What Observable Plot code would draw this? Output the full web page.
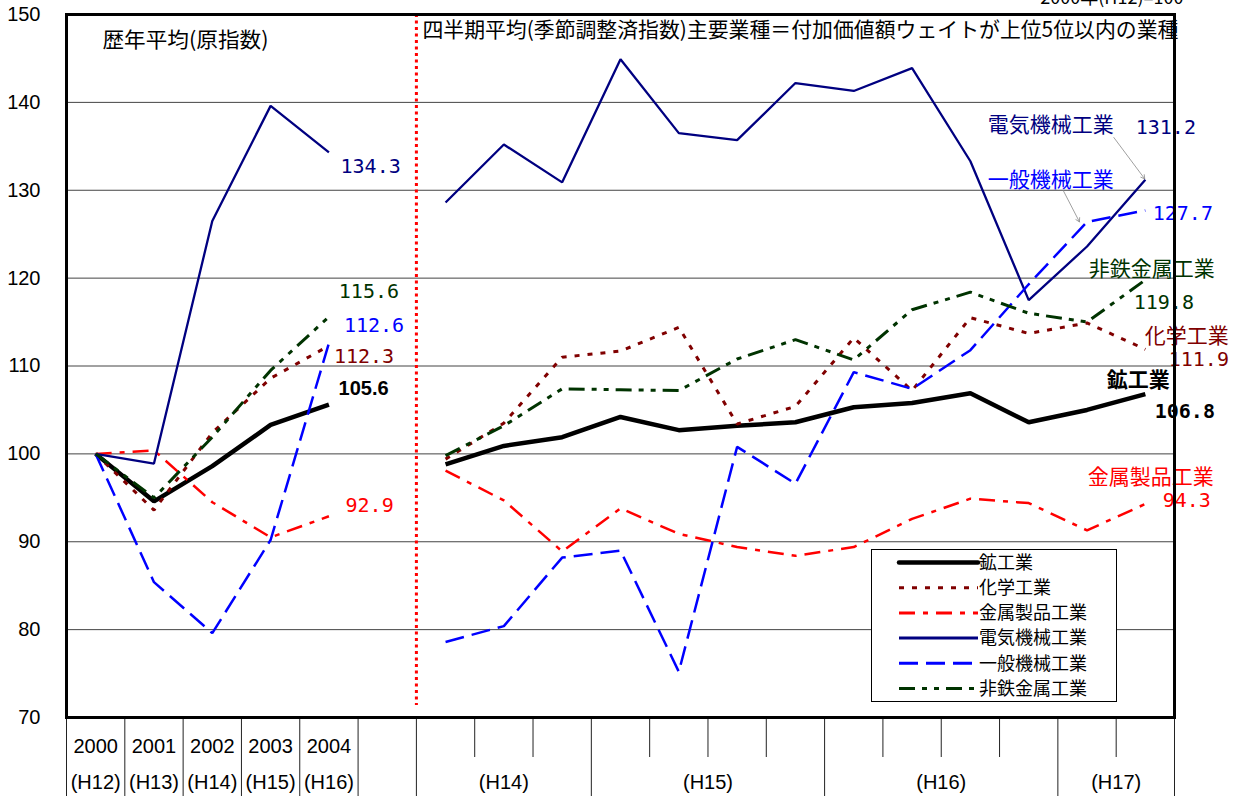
<!DOCTYPE html>
<html>
<head>
<meta charset="utf-8">
<script src="https://cdn.jsdelivr.net/npm/d3@7"></script>
<script src="https://cdn.jsdelivr.net/npm/@observablehq/plot@0.6"></script>
<style>
  body { margin: 0; background: #fff; }
  #wrap { position: relative; width: 1233px; height: 796px; overflow: hidden; background: #fff; }
  #legend { position: absolute; left: 871px; top: 549px; width: 246px; height: 153px;
            border: 1px solid #000; background: #fff; box-sizing: border-box; }
  #legend svg { overflow: visible; display: block; }
</style>
</head>
<body>
<div id="wrap"><div id="chart"></div><div id="legend"></div></div>
<script>
// ---------------- data ----------------
const years = ["2000", "2001", "2002", "2003", "2004"];
const yearEras = ["(H12)", "(H13)", "(H14)", "(H15)", "(H16)"];
const fiscalYears = ["(H14)", "(H15)", "(H16)", "(H17)"];
const quartersPerFiscalYear = [3, 4, 4, 2];
const yTicks = [70, 80, 90, 100, 110, 120, 130, 140, 150];

const seriesNames = ["鉱工業", "化学工業", "金属製品工業", "電気機械工業", "一般機械工業", "非鉄金属工業"];

// annual averages (original index), 2000-2004
const annualMining      = [100, 94.6, 98.6, 103.3, 105.6];
const annualChemical    = [100, 93.6, 102.4, 108.6, 112.3];
const annualMetalProd   = [100, 100.4, 94.5, 90.5, 92.9];
const annualElectrical  = [100, 98.9, 126.5, 139.6, 134.3];
const annualGeneralMach = [100, 85.4, 79.6, 90.2, 112.6];
const annualNonferrous  = [100, 95.0, 101.9, 109.5, 115.6];

// quarterly averages (seasonally adjusted), H14 Q2 .. H17 Q1
const quarterMining      = [98.8, 100.9, 101.9, 104.2, 102.7, 103.2, 103.6, 105.3, 105.8, 106.9, 103.6, 105.0, 106.8];
const quarterChemical    = [99.4, 103.5, 111.0, 111.7, 114.4, 103.4, 105.4, 113.2, 107.2, 115.5, 113.7, 114.9, 111.9];
const quarterMetalProd   = [98.1, 94.7, 88.9, 93.8, 90.9, 89.4, 88.4, 89.4, 92.6, 94.9, 94.4, 91.3, 94.3];
const quarterElectrical  = [128.6, 135.2, 130.9, 144.9, 136.5, 135.7, 142.2, 141.3, 143.9, 133.3, 117.5, 123.6, 131.2];
const quarterGeneralMach = [78.6, 80.4, 88.2, 89.0, 75.2, 100.8, 96.6, 109.3, 107.4, 111.8, 119.3, 126.4, 127.7];
const quarterNonferrous  = [99.8, 103.2, 107.4, 107.3, 107.2, 110.8, 113.0, 110.7, 116.4, 118.4, 116.0, 115.0, 119.8];

const titleAnnual = "歴年平均(原指数)";
const titleQuarter = "四半期平均(季節調整済指数)主要業種＝付加価値額ウェイトが上位5位以内の業種";
const baseNote = "2000年(H12)=100";

// ---------------- styles ----------------
const CJK = "'Noto Sans CJK JP', sans-serif";
const SANS = "'Liberation Sans', Arial, sans-serif";
const MONO = "'DejaVu Sans Mono', 'Liberation Mono', monospace";

const styles = {
  "鉱工業":       {stroke: "#000000", strokeWidth: 4.5, dash: null},
  "化学工業":     {stroke: "#800000", strokeWidth: 3, dash: "5,8"},
  "金属製品工業": {stroke: "#FF0000", strokeWidth: 2.5, dash: "16,8,5,8"},
  "電気機械工業": {stroke: "#000080", strokeWidth: 2.3, dash: null},
  "一般機械工業": {stroke: "#0000FF", strokeWidth: 2.5, dash: "19,8"},
  "非鉄金属工業": {stroke: "#003300", strokeWidth: 3, dash: "16,7,5,7,5,7"}
};

// ---------------- tidy table ----------------
const annualBySeries = [annualMining, annualChemical, annualMetalProd, annualElectrical, annualGeneralMach, annualNonferrous];
const quarterBySeries = [quarterMining, quarterChemical, quarterMetalProd, quarterElectrical, quarterGeneralMach, quarterNonferrous];

const quarterStart = years.length + 1;               // one empty column after the years
const quarterCount = d3.sum(quartersPerFiscalYear);
const nCols = quarterStart + quarterCount;            // 19 columns

const rows = [];
seriesNames.forEach((name, s) => {
  annualBySeries[s].forEach((v, i) => rows.push({series: name, part: "annual", x: i + 0.5, value: v}));
  quarterBySeries[s].forEach((v, j) => rows.push({series: name, part: "quarter", x: quarterStart + j + 0.5, value: v}));
});
const lastOf = (name, part) => {
  const r = rows.filter(d => d.series === name && d.part === part);
  return [r[r.length - 1]];
};

// column boundaries below the axis
const longBounds = d3.range(0, quarterStart + 1);
const shortBounds = [];
{
  let c = quarterStart;
  quartersPerFiscalYear.forEach(n => {
    for (let k = 1; k < n; k++) shortBounds.push(c + k);
    c += n;
    longBounds.push(c);
  });
}
const fyCenters = [];
{
  let c = quarterStart;
  quartersPerFiscalYear.forEach(n => { fyCenters.push(c + n / 2); c += n; });
}
const yearCenters = years.map((_, i) => i + 0.5);
const fmt = d3.format(".1f");

// ---------------- labels ----------------
function valueLabel(name, part, dx, dy, fill, opts = {}) {
  return Plot.text(lastOf(name, part), {
    x: "x", y: "value", text: d => fmt(d.value), dx, dy,
    textAnchor: "start", lineAnchor: "middle", fill,
    fontFamily: MONO, fontSize: 20, ...opts
  });
}
function nameLabel(name, part, dx, dy, fill, opts = {}) {
  return Plot.text(lastOf(name, part), {
    x: "x", y: "value", text: d => d.series, dx, dy,
    textAnchor: "start", lineAnchor: "middle", fill,
    fontFamily: CJK, fontSize: 21, ...opts
  });
}

const lineMarks = seriesNames.map(name => Plot.line(rows.filter(d => d.series === name), {
  x: "x", y: "value", z: "part",
  stroke: styles[name].stroke, strokeWidth: styles[name].strokeWidth,
  strokeDasharray: styles[name].dash, strokeLinecap: "butt", strokeLinejoin: "miter"
}));

const chart = Plot.plot({
  width: 1233, height: 796,
  marginLeft: 66, marginRight: 59, marginTop: 14, marginBottom: 79,
  style: {fontFamily: SANS, background: "white", overflow: "hidden"},
  x: {domain: [0, nCols]},
  y: {domain: [70, 150]},
  marks: [
    Plot.ruleY(yTicks.slice(1, -1), {stroke: "#444", strokeWidth: 1}),
    Plot.ruleX([quarterStart], {stroke: "#FF0000", strokeWidth: 3, strokeDasharray: "3,3.5", insetBottom: 12}),
    ...lineMarks,
    // annual end labels
    valueLabel("電気機械工業", "annual", 11.6, 13.8, "#000080"),
    valueLabel("非鉄金属工業", "annual", 9.9, -25.6, "#003300"),
    valueLabel("一般機械工業", "annual", 15, -18, "#0000FF"),
    valueLabel("化学工業", "annual", 5, 10.7, "#800000"),
    valueLabel("鉱工業", "annual", 9.6, -16, "#000", {fontFamily: SANS, fontWeight: "bold"}),
    valueLabel("金属製品工業", "annual", 16.6, -11, "#FF0000"),
    // quarterly end labels
    nameLabel("電気機械工業", "quarter", -31.6, -54.5, "#000080", {textAnchor: "end"}),
    valueLabel("電気機械工業", "quarter", -9.6, -52.5, "#000080"),
    nameLabel("一般機械工業", "quarter", -31.6, -30.2, "#0000FF", {textAnchor: "end"}),
    valueLabel("一般機械工業", "quarter", 7.4, 2.8, "#0000FF"),
    nameLabel("非鉄金属工業", "quarter", -56.6, -10.7, "#003300"),
    valueLabel("非鉄金属工業", "quarter", -11.6, 22.3, "#003300"),
    nameLabel("化学工業", "quarter", -0.6, -13.5, "#800000"),
    valueLabel("化学工業", "quarter", 23.4, 10, "#800000"),
    nameLabel("鉱工業", "quarter", -38.6, -13.9, "#000", {fontWeight: "bold"}),
    valueLabel("鉱工業", "quarter", 9.4, 17.1, "#000", {fontWeight: "bold"}),
    nameLabel("金属製品工業", "quarter", -57.6, -26.8, "#FF0000"),
    valueLabel("金属製品工業", "quarter", 17.4, -3.8, "#FF0000"),
    // pointer arrows
    Plot.arrow(lastOf("電気機械工業", "quarter"), {
      x1: d => d.x - 0.54, y1: d => d.value + 4.8, x2: "x", y2: "value",
      stroke: "#888", strokeWidth: 0.8, headLength: 8, insetEnd: 1
    }),
    Plot.arrow(rows.filter(d => d.series === "一般機械工業" && d.part === "quarter").slice(-2, -1), {
      x1: d => d.x - 0.41, y1: d => d.value + 3.6, x2: d => d.x - 0.13, y2: "value",
      stroke: "#888", strokeWidth: 0.8, headLength: 8
    }),
    // panel titles
    Plot.text([titleAnnual], {frameAnchor: "top-left", dx: 36, dy: 26, lineAnchor: "middle",
      fontFamily: CJK, fontSize: 21, fill: "#000"}),
    Plot.text([titleQuarter], {x: () => quarterStart, frameAnchor: "top", textAnchor: "start", lineAnchor: "middle",
      dx: 6, dy: 16, fontFamily: CJK, fontSize: 21, fill: "#000"}),
    Plot.text([baseNote], {frameAnchor: "top-right", textAnchor: "end", lineAnchor: "middle",
      dx: 9, dy: -16, fontFamily: CJK, fontSize: 18, fill: "#000"}),
    // axes
    Plot.axisY(yTicks, {tickSize: 0, tickPadding: 26, fontSize: 20, fontFamily: SANS, fill: "#000", label: null}),
    Plot.axisX(longBounds, {tickSize: 79, tickFormat: () => "", stroke: "#222", strokeWidth: 1, label: null}),
    Plot.axisX(shortBounds, {tickSize: 40, tickFormat: () => "", stroke: "#222", strokeWidth: 1, label: null}),
    Plot.axisX(yearCenters, {tickSize: 0, tickPadding: 21, tickFormat: (d, i) => years[i], fontSize: 20, fontFamily: SANS, fill: "#000", label: null}),
    Plot.axisX(yearCenters, {tickSize: 0, tickPadding: 57, tickFormat: (d, i) => yearEras[i], fontSize: 20, fontFamily: SANS, fill: "#000", label: null}),
    Plot.axisX(fyCenters, {tickSize: 0, tickPadding: 57, tickFormat: (d, i) => fiscalYears[i], fontSize: 20, fontFamily: SANS, fill: "#000", label: null}),
    Plot.frame({stroke: "#000", strokeWidth: 3})
  ]
});
document.getElementById("chart").appendChild(chart);

// stretch the panel titles to the reference widths
d3.select(chart).selectAll("text").each(function () {
  if (this.textContent === titleQuarter) d3.select(this).attr("textLength", 756).attr("lengthAdjust", "spacingAndGlyphs");
  if (this.textContent === titleAnnual) d3.select(this).attr("textLength", 166).attr("lengthAdjust", "spacingAndGlyphs");
});

// ---------------- legend ----------------
const lg = d3.select("#legend").append("svg").attr("width", 244).attr("height", 151);
seriesNames.forEach((name, i) => {
  const y = 12.5 + i * 25.2;
  const st = styles[name];
  lg.append("line").attr("x1", 27).attr("x2", 106).attr("y1", y).attr("y2", y)
    .attr("stroke", st.stroke).attr("stroke-width", name === "鉱工業" ? 4.5 : 3)
    .attr("stroke-linecap", name === "鉱工業" ? "round" : "butt")
    .attr("stroke-dasharray", st.dash);
  lg.append("text").attr("x", 107).attr("y", y).attr("dy", "0.35em")
    .attr("font-family", CJK).attr("font-size", 18).attr("fill", "#000").text(name);
});
</script>
</body>
</html>
